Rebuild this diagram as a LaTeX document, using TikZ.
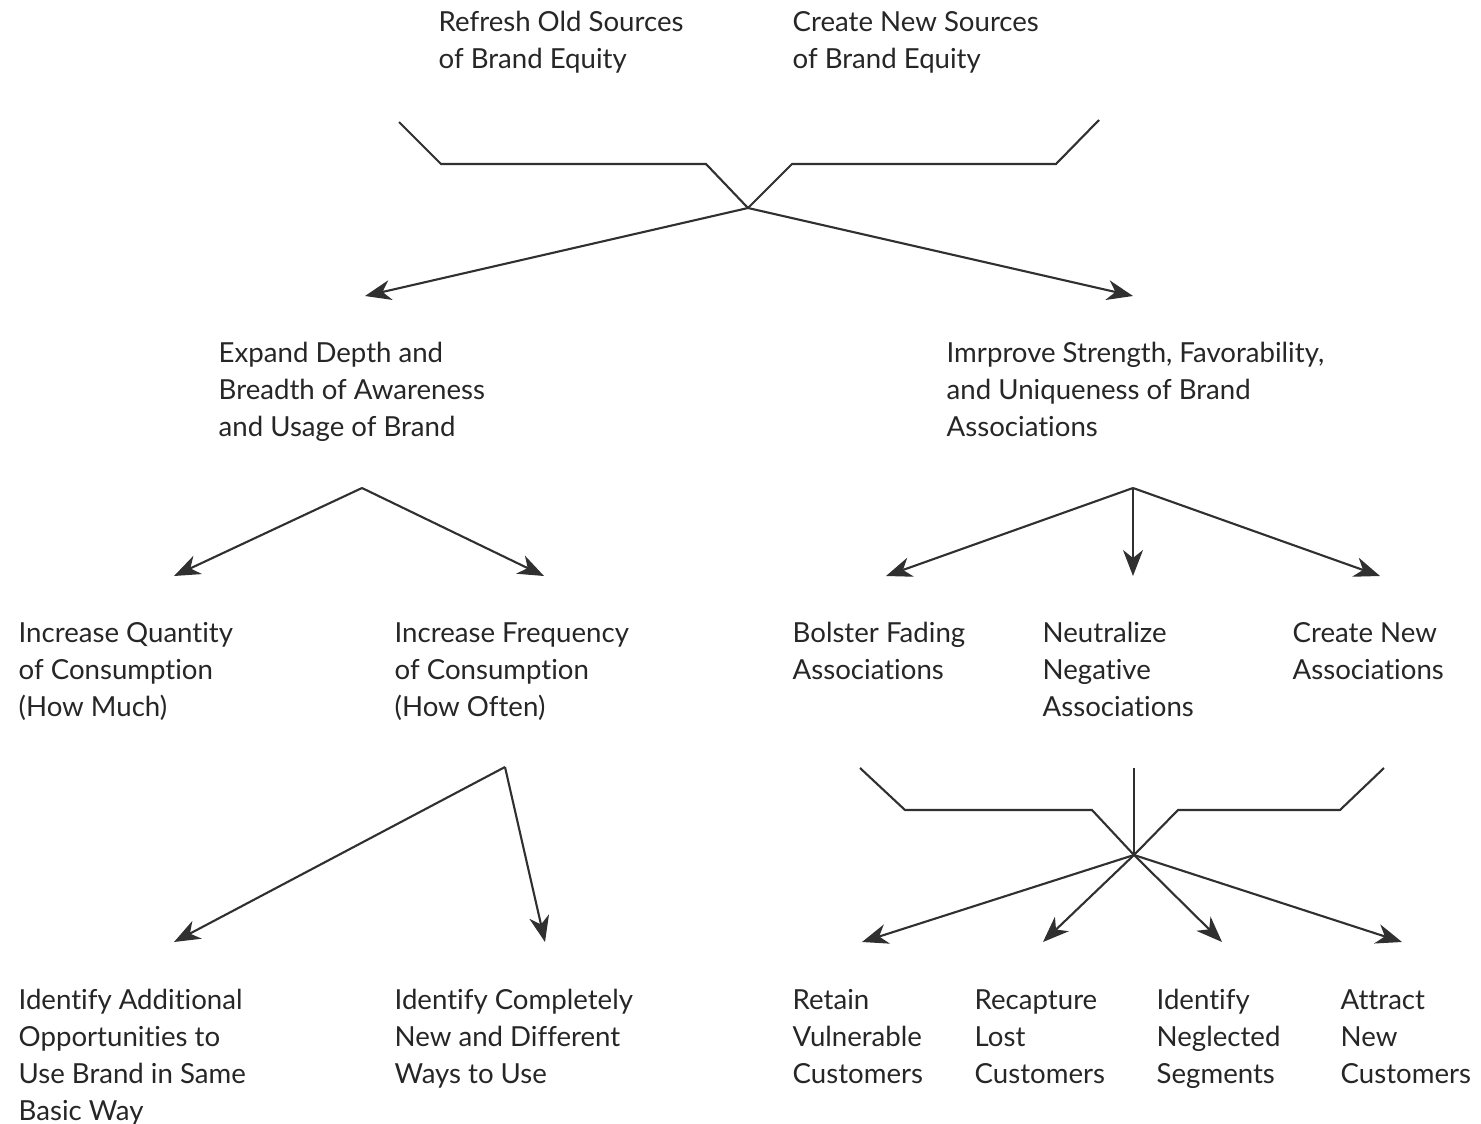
\documentclass[tikz,border=0pt]{standalone}
\usepackage{fontspec}
\setmainfont{Lato}[Ligatures=NoCommon]
\usetikzlibrary{arrows.meta}
\definecolor{ink}{HTML}{262626}
\definecolor{wire}{HTML}{303030}
\begin{document}
\begin{tikzpicture}[x=0.01cm,y=-0.01cm,
  % multi-line labels sit on the baseline of their last line
  lbl/.style={anchor=base west, align=left, inner sep=0pt,
    font=\fontsize{7.85}{10.5}\selectfont, text=ink},
  ln/.style={draw=wire, line width=0.6pt, line join=miter},
  arr/.style={ln, -{Stealth[length=0.26cm,width=0.2cm,inset=0.08cm]}}]
\useasboundingbox (0,0) rectangle (1481,1124);

% ---- labels ----
\node[lbl] (refresh)  at (438,68) {Refresh Old Sources\\of Brand Equity};
\node[lbl] (create)   at (792,68) {Create New Sources\\of Brand Equity};
\node[lbl] (expand)   at (218,436) {Expand Depth and\\Breadth of Awareness\\and Usage of Brand};
\node[lbl] (improve)  at (946,436) {Imrprove Strength, Favorability,\\and Uniqueness of Brand\\Associations};
\node[lbl] (qty)      at (18,716)  {Increase Quantity\\of Consumption\\(How Much)};
\node[lbl] (freq)     at (394,716) {Increase Frequency\\of Consumption\\(How Often)};
\node[lbl] (bolster)  at (792,679) {Bolster Fading\\Associations};
\node[lbl] (neutral)  at (1042,716) {Neutralize\\Negative\\Associations};
\node[lbl] (newassoc) at (1292,679) {Create New\\Associations};
\node[lbl] (addl)     at (18,1120) {Identify Additional\\Opportunities to\\Use Brand in Same\\Basic Way};
\node[lbl] (complete) at (394,1083) {Identify Completely\\New and Different\\Ways to Use};
\node[lbl] (retain)   at (792,1083) {Retain\\Vulnerable\\Customers};
\node[lbl] (recap)    at (974,1083) {Recapture\\Lost\\Customers};
\node[lbl] (neglect)  at (1156,1083) {Identify\\Neglected\\Segments};
\node[lbl] (attract)  at (1340,1083) {Attract\\New\\Customers};

% ---- hubs and arrow tips ----
\coordinate (hubA) at (748,208);
\coordinate (hubB) at (362,488);
\coordinate (hubC) at (1133,488);
\coordinate (hubD) at (505,767);
\coordinate (hubE) at (1134,855);

\coordinate (tipExpand)  at (365,296);
\coordinate (tipImprove) at (1133,296);
\coordinate (tipQty)     at (174,576);
\coordinate (tipFreq)    at (544,576);
\coordinate (tipBolster) at (886,576);
\coordinate (tipNeutral) at (1133,576);
\coordinate (tipNew)     at (1380,576);
\coordinate (tipAddl)    at (174,942);
\coordinate (tipCompl)   at (545,942);
\coordinate (tipRetain)  at (862,942);
\coordinate (tipRecap)   at (1043,942);
\coordinate (tipNeglect) at (1222,942);
\coordinate (tipAttract) at (1402,942);

% ---- top funnel: two sources merging ----
\coordinate (tA1) at (399,122); \coordinate (tA2) at (441,164); \coordinate (tA3) at (706,164);
\coordinate (tB1) at (1099,120); \coordinate (tB2) at (1056,164); \coordinate (tB3) at (792,164);
\draw[ln] (tA1) -- (tA2) -- (tA3) -- (hubA);
\draw[ln] (tB1) -- (tB2) -- (tB3) -- (hubA);
\draw[arr] (hubA) -- (tipExpand);
\draw[arr] (hubA) -- (tipImprove);

% ---- awareness branch ----
\draw[arr] (hubB) -- (tipQty);
\draw[arr] (hubB) -- (tipFreq);
\draw[arr] (hubD) -- (tipAddl);
\draw[arr] (hubD) -- (tipCompl);

% ---- associations branch ----
\draw[arr] (hubC) -- (tipBolster);
\draw[arr] (hubC) -- (tipNeutral);
\draw[arr] (hubC) -- (tipNew);

% ---- bottom funnel: three inputs merging ----
\coordinate (bA1) at (860,768); \coordinate (bA2) at (905,810); \coordinate (bA3) at (1092,810);
\coordinate (bB1) at (1384,768); \coordinate (bB2) at (1340,810); \coordinate (bB3) at (1178,810);
\coordinate (bC1) at (1134,768);
\draw[ln] (bA1) -- (bA2) -- (bA3) -- (hubE);
\draw[ln] (bB1) -- (bB2) -- (bB3) -- (hubE);
\draw[ln] (bC1) -- (hubE);
\draw[arr] (hubE) -- (tipRetain);
\draw[arr] (hubE) -- (tipRecap);
\draw[arr] (hubE) -- (tipNeglect);
\draw[arr] (hubE) -- (tipAttract);
\end{tikzpicture}
\end{document}
